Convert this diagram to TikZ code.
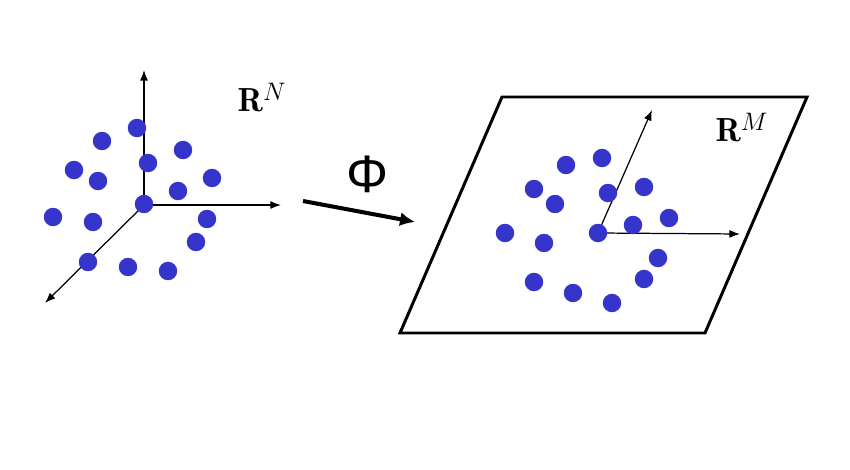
\documentclass[tikz,border=0pt]{standalone}
\usepackage{amsmath}
\usepackage{fontspec}
\usetikzlibrary{arrows.meta}
\newfontfamily\phifont{Liberation Sans}
\definecolor{dotblue}{RGB}{53,53,204}

\begin{document}
\begin{tikzpicture}[
    x=0.02cm, y=-0.02cm,
    dot/.style={
        circle,
        fill=dotblue,
        inner sep=0pt,
        minimum size=0.37cm
    },
    axis/.style={line width=0.7pt, -{Latex[length=6pt,width=4.5pt]}},
    map/.style={line width=2.3pt, -{Latex[length=8.5pt,width=8pt]}},
    space/.style={font=\fontsize{19}{22}\selectfont}
]
\useasboundingbox (0,0) rectangle (850,470);

% input space
\coordinate (o1) at (144,205);
\coordinate (u1) at (144,70);
\coordinate (r1) at (281,205);
\coordinate (d1) at (45,303);
\draw[axis] (o1) -- (u1);
\draw[axis] (o1) -- (r1);
\draw[axis] (o1) -- (d1);

\foreach \x/\y [count=\i] in {137/128, 102/141, 74/170, 98/181, 148/163,
    183/150, 212/178, 178/191, 144/204, 53/217, 93/222, 207/219,
    196/242, 88/262, 128/267, 168/271}
    \node[dot] (l\i) at (\x,\y) {};

\node[space] (rn) at (262,98) {$\mathbf{R}^N$};

% the map
\coordinate (m1) at (303,201);
\coordinate (m2) at (415,222);
\draw[map] (m1) -- (m2);
\node (phi) at (368,174) {\fontsize{30}{30}\selectfont\phifont Φ};

% feature space
\coordinate (p1) at (502,97);
\coordinate (p2) at (807,97);
\coordinate (p3) at (705,333);
\coordinate (p4) at (400,333);
\draw[line width=1.7pt] (p1) -- (p2) -- (p3) -- (p4) -- cycle;

\coordinate (o2) at (598,233);
\coordinate (u2) at (652,110);
\coordinate (r2) at (740,234);
\draw[axis] (o2) -- (u2);
\draw[axis] (o2) -- (r2);

\foreach \x/\y [count=\i] in {566/165, 602/158, 534/189, 555/204, 608/193,
    644/187, 669/218, 633/225, 598/233, 505/233, 544/243, 658/258,
    644/279, 534/282, 573/293, 612/303}
    \node[dot] (r\i) at (\x,\y) {};

\node[space] (rm) at (742,128) {$\mathbf{R}^M$};

\end{tikzpicture}
\end{document}
